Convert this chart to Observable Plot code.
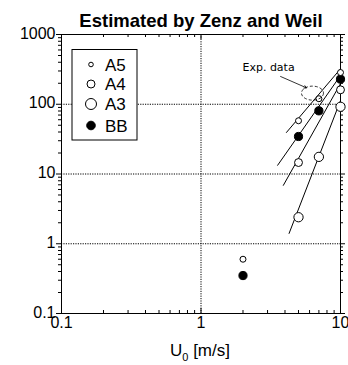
<!DOCTYPE html>
<html><head><meta charset="utf-8">
<script src="https://cdn.jsdelivr.net/npm/d3@7"></script>
<script src="https://cdn.jsdelivr.net/npm/@observablehq/plot@0.6"></script>
<style>body{margin:0;background:#fff} svg{display:block}</style>
</head><body><div id="chart"></div>
<script>
const titleText = "Estimated by Zenz and Weil";
const seriesNames = ["A5", "A4", "A3", "BB"];
const seriesRadius = [2.3, 4, 5.5, 4.3];
const seriesFilled = [false, false, false, true];
// measured points
const a5U = [2, 5, 7, 10];   const a5V = [0.6, 58, 120, 285];
const a4U = [5, 10];         const a4V = [14.6, 161];
const a3U = [5, 7, 10];      const a3V = [2.4, 17.6, 92];
const bbU = [2, 5, 7, 10];   const bbV = [0.35, 34.5, 80.5, 229];
// fitted lines (end points)
const fitNames = ["A5", "BB", "A4", "A3"];
const fitU1 = [4.08, 3.53, 3.88, 4.27];
const fitV1 = [39, 13.2, 6.8, 1.39];
const fitU2 = [10, 10, 10, 10];
const fitV2 = [322, 258, 198, 113];
// annotation
const expLabel = "Exp. data";
const expU = [6.35]; const expV = [142];
const arrowU1 = [3.72], arrowV1 = [250], arrowU2 = [5.7], arrowV2 = [172];
const labelU = [3.05], labelV = [333];
// axes
const xTicks = [0.1, 1, 10];
const yTicks = [0.1, 1, 10, 100, 1000];
const gridX = [1];
const gridY = [1, 10, 100];
const xMinor = [0.2,0.3,0.4,0.5,0.6,0.7,0.8,0.9,2,3,4,5,6,7,8,9];
const yMinor = [0.2,0.3,0.4,0.5,0.6,0.7,0.8,0.9,2,3,4,5,6,7,8,9,20,30,40,50,60,70,80,90,200,300,400,500,600,700,800,900];

const pts = [];
[[a5U,a5V,0],[a4U,a4V,1],[a3U,a3V,2],[bbU,bbV,3]].forEach(([U,V,k]) =>
  U.forEach((u,i) => pts.push({u, v: V[i], k})));
const fits = fitNames.map((n,i) => ({n, u1: fitU1[i], v1: fitV1[i], u2: fitU2[i], v2: fitV2[i]}));

const font = "'Liberation Sans', Arial, Helvetica, sans-serif";
const W = 348, H = 365;

const plot = Plot.plot({
  width: W, height: H,
  marginLeft: 61, marginRight: 8, marginTop: 34, marginBottom: 52,
  style: {fontFamily: font, background: "#fff", color: "#000"},
  x: {type: "log", domain: [0.1, 10], axis: null},
  y: {type: "log", domain: [0.1, 1000], axis: null},
  marks: [
    Plot.ruleX(gridX, {x: d => d, stroke: "#000", strokeDasharray: "1.2,1.2", strokeWidth: 1}),
    Plot.ruleY(gridY, {y: d => d, stroke: "#000", strokeDasharray: "1.2,1.2", strokeWidth: 1}),
    // inward ticks bottom/top
    Plot.ruleX(xTicks, {x: d => d, y1: 0.1, y2: 0.1, insetBottom: 5, stroke: "#000"}),
    Plot.ruleX(xMinor, {x: d => d, y1: 0.1, y2: 0.1, insetBottom: 3, stroke: "#000"}),
    Plot.ruleX(xTicks, {x: d => d, y1: 1000, y2: 1000, insetTop: 5, stroke: "#000"}),
    Plot.ruleX(xMinor, {x: d => d, y1: 1000, y2: 1000, insetTop: 3, stroke: "#000"}),
    // inward ticks left/right
    Plot.ruleY(yTicks, {y: d => d, x1: 0.1, x2: 0.1, insetRight: 5, stroke: "#000"}),
    Plot.ruleY(yMinor, {y: d => d, x1: 0.1, x2: 0.1, insetRight: 3, stroke: "#000"}),
    Plot.ruleY(yTicks, {y: d => d, x1: 10, x2: 10, insetLeft: 5, stroke: "#000"}),
    Plot.ruleY(yMinor, {y: d => d, x1: 10, x2: 10, insetLeft: 3, stroke: "#000"}),
    Plot.frame({stroke: "#000", strokeWidth: 1}),
    Plot.axisX(xTicks, {tickSize: 0, tickPadding: 3, fontSize: 16, tickFormat: d => String(d)}),
    Plot.axisY(yTicks, {tickSize: 0, tickPadding: 6, fontSize: 16, dy: -1, tickFormat: d => String(d)}),
    // fitted lines
    Plot.link(fits, {x1: "u1", y1: "v1", x2: "u2", y2: "v2", stroke: "#000", strokeWidth: 1}),
    // points
    Plot.dot(pts, {x: "u", y: "v", r: d => seriesRadius[d.k],
      fill: d => seriesFilled[d.k] ? "#000" : "#fff", stroke: "#000", strokeWidth: 1}),
    // annotation
    Plot.arrow([0], {x1: () => arrowU1[0], y1: () => arrowV1[0], x2: () => arrowU2[0], y2: () => arrowV2[0],
      stroke: "#000", strokeWidth: 0.8, headLength: 5, bend: false}),
    Plot.text([expLabel], {x: () => labelU[0], y: () => labelV[0], text: d => d, fontSize: 11,
      fontFamily: "'DejaVu Sans', sans-serif", fill: "#000"}),
    Plot.text([titleText], {frameAnchor: "top", lineAnchor: "bottom", dy: -8, text: d => d,
      fontSize: 18.5, fontWeight: "bold", fill: "#000"})
  ]
});

const svg = d3.select(plot);
const sx = plot.scale("x"), sy = plot.scale("y");
// dashed ellipse for experimental data
svg.append("ellipse")
  .attr("cx", sx.apply(expU[0])).attr("cy", sy.apply(expV[0]))
  .attr("rx", 11).attr("ry", 7)
  .attr("fill", "none").attr("stroke", "#000").attr("stroke-width", 0.8).attr("stroke-dasharray", "3,2");

// x label with subscript
const xl = svg.append("text").attr("x", 200).attr("y", 356).attr("text-anchor", "middle")
  .attr("font-family", font).attr("font-size", 17).attr("fill", "#000");
xl.append("tspan").text("U");
xl.append("tspan").attr("font-size", 11).attr("dy", 5).text("0");
xl.append("tspan").attr("dy", -5).text(" [m/s]");

// legend
const lg = svg.append("g");
lg.append("rect").attr("x", 72).attr("y", 49.5).attr("width", 65).attr("height", 90.5)
  .attr("fill", "#fff").attr("stroke", "#000").attr("stroke-width", 1);
const rowsY = [64.5, 84, 104, 125.5];
seriesNames.forEach((n, i) => {
  lg.append("circle").attr("cx", 91).attr("cy", rowsY[i]).attr("r", seriesRadius[i])
    .attr("fill", seriesFilled[i] ? "#000" : "#fff").attr("stroke", "#000");
  lg.append("text").attr("x", 105).attr("y", rowsY[i]).attr("dy", "0.36em")
    .attr("text-anchor", "start")
    .attr("font-family", font).attr("font-size", 17).attr("fill", "#000").text(n);
});

document.getElementById("chart").appendChild(plot);
</script>
</body></html>
